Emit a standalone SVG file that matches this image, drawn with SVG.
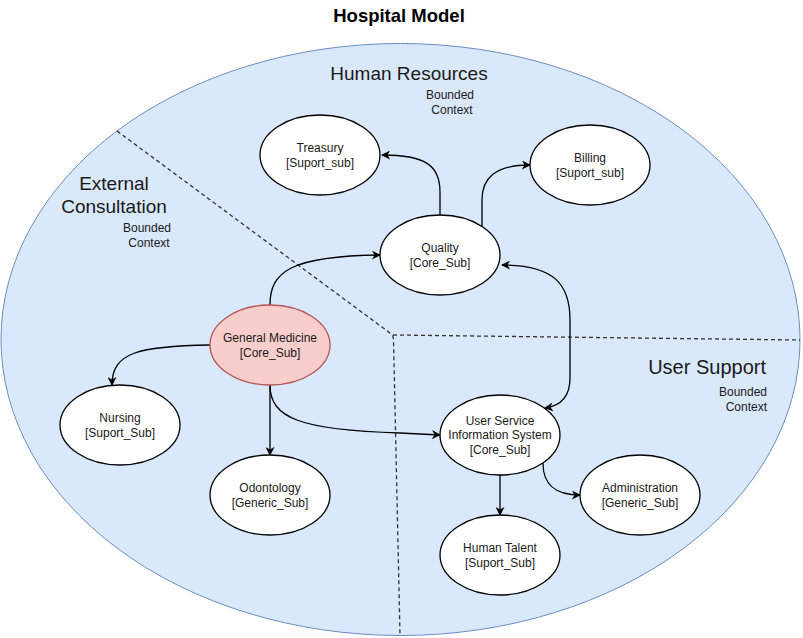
<svg xmlns="http://www.w3.org/2000/svg" width="803" height="638" viewBox="0 0 803 638">
<style>
text{font-family:"Liberation Sans",Arial,sans-serif;fill:#1a1a1a;}
.n{font-size:12px;text-anchor:middle;}
.zt{font-size:19px;}
.bc{font-size:12px;}
.node{fill:#ffffff;stroke:#000000;stroke-width:1.3;}
.core{fill:#f8cecc;stroke:#b85450;stroke-width:1.3;}
.e{fill:none;stroke:#000000;stroke-width:1.3;}
.d{fill:none;stroke:#333333;stroke-width:1.3;stroke-dasharray:4 3;}
</style>
<defs>
<marker id="arr" viewBox="0 0 10 10" refX="9" refY="5" markerWidth="9" markerHeight="9" markerUnits="userSpaceOnUse" orient="auto-start-reverse">
<path d="M0,0 L10,5 L0,10 L3,5 Z" fill="#000"/>
</marker>
</defs>
<rect width="803" height="638" fill="#ffffff"/>
<text x="399" y="22" style="font-size:18.5px;font-weight:bold;text-anchor:middle;fill:#000">Hospital Model</text>
<g id="zones">
<ellipse cx="400.5" cy="339.5" rx="399.5" ry="296" fill="#dae8fc" stroke="#6c8ebf" stroke-width="1"/>
<path class="d" d="M117,131 L390,333 Q393,335 393.5,339 L400,635"/>
<path class="d" d="M393,335 L800,340"/>
<text class="zt" x="409" y="80" text-anchor="middle">Human Resources</text>
<text class="bc" x="450" y="99" text-anchor="middle">Bounded</text>
<text class="bc" x="452" y="114" text-anchor="middle">Context</text>
<text class="zt" x="114" y="190" text-anchor="middle">External</text>
<text class="zt" x="114" y="213" text-anchor="middle">Consultation</text>
<text class="bc" x="147" y="232" text-anchor="middle">Bounded</text>
<text class="bc" x="149" y="247" text-anchor="middle">Context</text>
<text class="zt" x="766" y="374" text-anchor="end" style="font-size:20px">User Support</text>
<text class="bc" x="767" y="396" text-anchor="end">Bounded</text>
<text class="bc" x="767" y="411" text-anchor="end">Context</text>
</g>
<g id="connectors">
<path class="e" d="M440,215 L440,192 C440,165 425,155 382,155" marker-end="url(#arr)"/>
<path class="e" d="M482,227 L482,200 C482,178 495,165 530,165" marker-end="url(#arr)"/>
<path class="e" d="M270,305 C270,272 290,256 380,255" marker-end="url(#arr)"/>
<path class="e" d="M502,265 C555,265 570,285 570,320 L570,378 C570,398 560,406 545,408" marker-start="url(#arr)" marker-end="url(#arr)"/>
<path class="e" d="M210,345 C140,346 112,352 112,385" marker-end="url(#arr)"/>
<path class="e" d="M270,385 L270,455" marker-end="url(#arr)"/>
<path class="e" d="M270,385 C270,418 300,430 400,433 L440,435" marker-end="url(#arr)"/>
<path class="e" d="M500,475 L500,515" marker-end="url(#arr)"/>
<path class="e" d="M543,463 C543,485 555,495 580,495" marker-end="url(#arr)"/>
</g>
<g id="treasury"><ellipse class="node" cx="320" cy="155" rx="60" ry="40"/><text class="n" x="320" y="152">Treasury</text><text class="n" x="320" y="167">[Suport_sub]</text></g>
<g id="billing"><ellipse class="node" cx="590" cy="165" rx="60" ry="40"/><text class="n" x="590" y="162">Billing</text><text class="n" x="590" y="177">[Suport_sub]</text></g>
<g id="quality"><ellipse class="node" cx="440" cy="255" rx="60" ry="40"/><text class="n" x="440" y="252">Quality</text><text class="n" x="440" y="267">[Core_Sub]</text></g>
<g id="general-medicine"><ellipse class="core" cx="270" cy="345" rx="60" ry="40"/><text class="n" x="270" y="342">General Medicine</text><text class="n" x="270" y="357">[Core_Sub]</text></g>
<g id="nursing"><ellipse class="node" cx="120" cy="425" rx="60" ry="40"/><text class="n" x="120" y="422">Nursing</text><text class="n" x="120" y="437">[Suport_Sub]</text></g>
<g id="odontology"><ellipse class="node" cx="270" cy="495" rx="60" ry="40"/><text class="n" x="270" y="492">Odontology</text><text class="n" x="270" y="507">[Generic_Sub]</text></g>
<g id="user-service-information-system"><ellipse class="node" cx="500" cy="435" rx="60" ry="40"/><text class="n" x="500" y="425">User Service</text><text class="n" x="500" y="439">Information System</text><text class="n" x="500" y="454">[Core_Sub]</text></g>
<g id="administration"><ellipse class="node" cx="640" cy="495" rx="60" ry="40"/><text class="n" x="640" y="492">Administration</text><text class="n" x="640" y="507">[Generic_Sub]</text></g>
<g id="human-talent"><ellipse class="node" cx="500" cy="555" rx="60" ry="40"/><text class="n" x="500" y="552">Human Talent</text><text class="n" x="500" y="567">[Suport_Sub]</text></g>
</svg>
